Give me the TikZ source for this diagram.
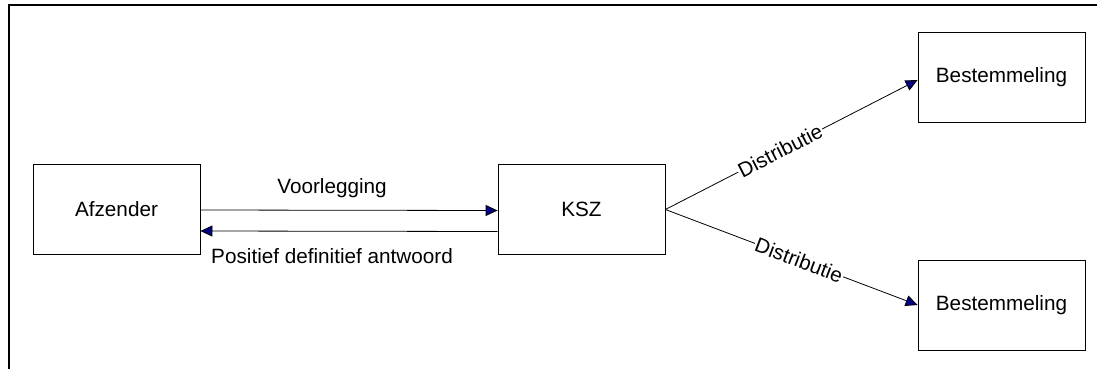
\documentclass[tikz,border=0pt]{standalone}
\usepackage{fontspec}
\setmainfont{Liberation Sans}
\usetikzlibrary{arrows.meta}
\definecolor{arrnavy}{RGB}{0,0,128}
\tikzset{
  box/.style={draw=black, line width=0.8pt, minimum width=167pt, minimum height=90pt, inner sep=0pt, font=\fontsize{20.7}{24}\selectfont},
  conn/.style={draw=black, line width=0.8pt, -{Triangle[length=12pt,width=11pt,fill=arrnavy]}},
  lbl/.style={font=\fontsize{20.7}{24}\selectfont, inner sep=1pt},
  frame/.style={line width=2pt}
}
\begin{document}
\begin{tikzpicture}[x=1pt,y=-1pt]
\useasboundingbox (0,0) rectangle (1097,369);
\draw[frame] (9,369) -- (9,5) -- (1097,5);
\node[box] (afz) at (116.5,209) {Afzender};
\node[box] (ksz) at (581.5,209.5) {KSZ};
\node[box] (b1) at (1001.5,77) {Bestemmeling};
\node[box] (b2) at (1001.5,305) {Bestemmeling};
\draw[conn] ([yshift=-1pt]afz.east) -- ([yshift=-1pt]ksz.west)
  node[lbl, pos=0.443, anchor=base, yshift=17pt] {Voorlegging};
\draw[conn] ([yshift=-22pt]ksz.west) -- ([yshift=-22pt]afz.east)
  node[lbl, pos=0.557, anchor=base, yshift=-32pt] {Positief definitief antwoord};
\draw[conn] (ksz.east) -- ([yshift=-3pt]b1.west)
  node[lbl, pos=0.455, sloped, fill=white] {Distributie};
\draw[conn] (ksz.east) -- (b2.west)
  node[lbl, pos=0.53, sloped, fill=white] {Distributie};
\end{tikzpicture}
\end{document}
